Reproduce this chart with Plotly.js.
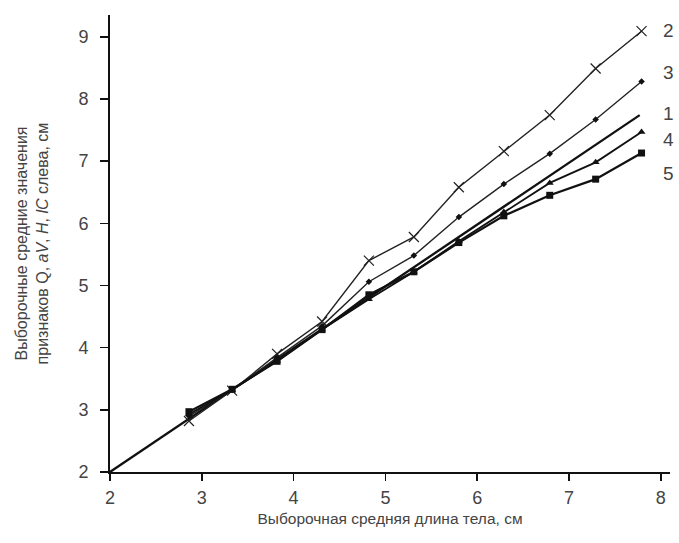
<!DOCTYPE html>
<html>
<head>
<meta charset="utf-8">
<script src="https://cdn.plot.ly/plotly-3.0.1.min.js"></script>
<style>html,body{margin:0;padding:0;background:#fff;}#chart{width:679px;height:543px;}</style>
</head>
<body>
<div id="chart"></div>
<script>
// Sample mean body length (x) for each group
const xVals = [2.86, 3.33, 3.82, 4.31, 4.82, 5.31, 5.80, 6.29, 6.79, 7.29, 7.79];
// Series 1: identity line
const x1 = [2.0, 7.77];
const y1 = [2.0, 7.74];
// Series 2 (x markers)
const y2 = [2.82, 3.31, 3.90, 4.42, 5.40, 5.78, 6.58, 7.16, 7.74, 8.49, 9.09];
// Series 3 (small diamonds)
const y3 = [2.90, 3.32, 3.84, 4.35, 5.06, 5.48, 6.10, 6.63, 7.12, 7.67, 8.28];
// Series 4 (triangles)
const y4 = [2.93, 3.32, 3.79, 4.29, 4.78, 5.22, 5.71, 6.18, 6.65, 6.98, 7.47];
// Series 5 (squares)
const y5 = [2.97, 3.33, 3.78, 4.29, 4.85, 5.22, 5.69, 6.12, 6.45, 6.71, 7.13];
const seriesLabels = ["2", "3", "1", "4", "5"];
const labelY = [9.1, 8.43, 7.77, 7.35, 6.8];

const traces = [
  {x: x1, y: y1, mode: 'lines', line: {color: '#111', width: 2.3}, hoverinfo: 'skip'},
  {x: xVals, y: y2, mode: 'lines+markers', line: {color: '#222', width: 1.4},
   marker: {symbol: 'x-thin-open', size: 10, line: {color: '#222', width: 1.2}, color: '#222'}},
  {x: xVals, y: y3, mode: 'lines+markers', line: {color: '#222', width: 1.4},
   marker: {symbol: 'diamond', size: 5, color: '#111'}},
  {x: xVals, y: y4, mode: 'lines+markers', line: {color: '#111', width: 1.8},
   marker: {symbol: 'triangle-up', size: 7, color: '#111'}},
  {x: xVals, y: y5, mode: 'lines+markers', line: {color: '#111', width: 2.2},
   marker: {symbol: 'square', size: 7, color: '#111'}}
];

const annotations = seriesLabels.map((t, i) => ({
  xref: 'paper', yref: 'y', x: 1.0, y: labelY[i], xanchor: 'center', yanchor: 'middle',
  xshift: -2, text: t, showarrow: false, font: {family: 'Liberation Sans, Arial, sans-serif', size: 19, color: '#444'}
}));

const layout = {
  width: 679, height: 543,
  margin: {l: 110, r: 9, t: 15, b: 71},
  paper_bgcolor: '#fff', plot_bgcolor: '#fff',
  showlegend: false,
  font: {family: 'Liberation Sans, Arial, sans-serif', color: '#444', size: 16},
  xaxis: {
    range: [2, 8.1], tickvals: [2, 3, 4, 5, 6, 7, 8], showgrid: false, zeroline: false,
    showline: true, linecolor: '#111', linewidth: 2, ticks: 'outside', ticklen: 7, tickwidth: 1.5, tickcolor: '#111',
    tickfont: {size: 18, color: '#444'}, ticklabelstandoff: 1,
    title: {text: 'Выборочная средняя длина тела, см', font: {size: 15.5, color: '#444'}, standoff: 7}
  },
  yaxis: {
    range: [2, 9.35], tickvals: [2, 3, 4, 5, 6, 7, 8, 9], showgrid: false, zeroline: false,
    showline: true, linecolor: '#111', linewidth: 2, ticks: 'outside', ticklen: 8, tickwidth: 1.5, tickcolor: '#111',
    tickfont: {size: 18, color: '#444'}, ticklabelstandoff: 8,
    title: {text: 'Выборочные средние значения<br>признаков Q, <i>aV</i>, <i>H</i>, <i>lC</i> слева, см', font: {size: 16, color: '#444'}, standoff: 26}
  },
  annotations: annotations
};

Plotly.newPlot('chart', traces, layout, {displayModeBar: false, staticPlot: true});
</script>
</body>
</html>
